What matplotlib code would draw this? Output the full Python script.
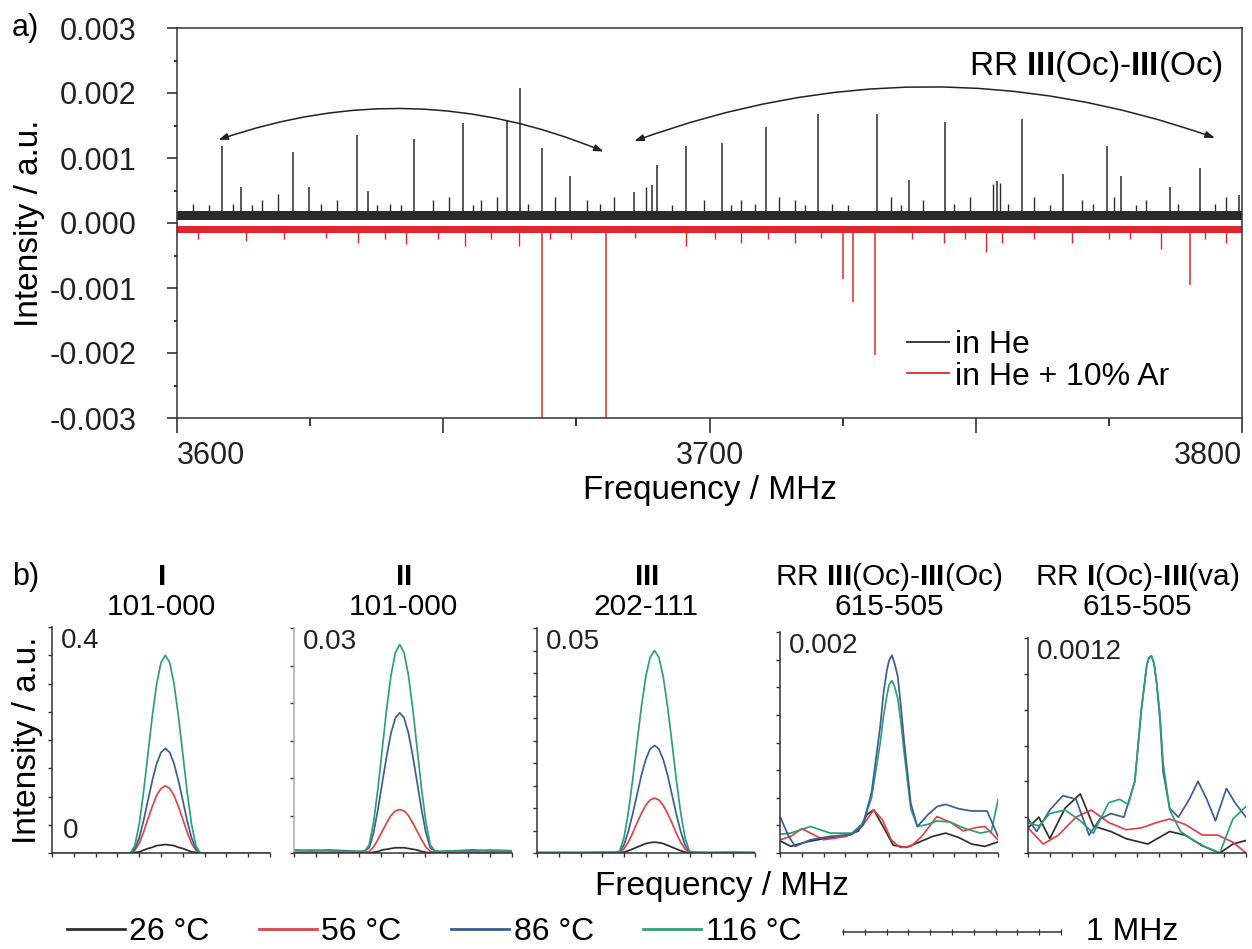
import numpy as np
import matplotlib
matplotlib.use("Agg")
import matplotlib.pyplot as plt
from matplotlib.lines import Line2D
from matplotlib.ticker import MultipleLocator, FormatStrFormatter

plt.rcParams["font.family"] = ["Liberation Sans", "DejaVu Sans"]
plt.rcParams["mathtext.fontset"] = "custom"
plt.rcParams["mathtext.rm"] = "Liberation Sans"
plt.rcParams["mathtext.bf"] = "Liberation Sans:bold"
plt.rcParams["axes.unicode_minus"] = False

BLACK = "#2a2a2a"
RED = "#e3262a"
C26, C56, C86, C116 = "#2e2e2e", "#d8454a", "#3a5e95", "#2f9e79"

# ---- (a) broadband spectrum: He (up) and He + 10% Ar (down) ----
he_peak_freq = [3608.5, 3612.1, 3621.7, 3624.8, 3633.8, 3635.9, 3644.6, 3653.8,
                3661.9, 3664.4, 3668.5, 3673.8, 3685.9, 3689.2, 3690.1, 3695.6,
                3702.3, 3710.6, 3720.3, 3731.5, 3737.5, 3744.3, 3753.9, 3758.6,
                3766.3, 3774.6, 3777.2, 3786.4, 3792.1, 3799.4]
he_peak_int = [0.00118, 0.00055, 0.00110, 0.00056, 0.00136, 0.00050, 0.00129, 0.00154,
               0.00159, 0.00208, 0.00116, 0.00072, 0.00047, 0.00058, 0.00089, 0.00118,
               0.00123, 0.00148, 0.00167, 0.00167, 0.00066, 0.00155, 0.00065, 0.00160,
               0.00075, 0.00118, 0.00072, 0.00056, 0.00085, 0.00043]
he_small_freq = [3603.0, 3606.0, 3610.5, 3614.0, 3616.0, 3619.0, 3627.0, 3630.0,
                 3637.5, 3640.0, 3642.0, 3648.0, 3651.0, 3655.5, 3657.0, 3660.0,
                 3666.0, 3671.0, 3677.0, 3679.5, 3682.0, 3688.0, 3693.0, 3699.0,
                 3704.0, 3706.0, 3708.5, 3713.0, 3716.0, 3718.0, 3723.0, 3726.0,
                 3734.0, 3736.0, 3740.0, 3746.0, 3749.0, 3753.3, 3754.5, 3756.0,
                 3761.0, 3764.0, 3770.0, 3772.0, 3776.0, 3780.0, 3782.0, 3788.0,
                 3795.0, 3797.0]
he_small_int = [0.00030, 0.00028, 0.00030, 0.00027, 0.00035, 0.00045, 0.00030, 0.00035,
                0.00027, 0.00030, 0.00028, 0.00035, 0.00040, 0.00028, 0.00035, 0.00040,
                0.00030, 0.00040, 0.00035, 0.00030, 0.00040, 0.00055, 0.00028, 0.00035,
                0.00028, 0.00035, 0.00030, 0.00040, 0.00035, 0.00028, 0.00030, 0.00028,
                0.00040, 0.00028, 0.00035, 0.00030, 0.00040, 0.00060, 0.00062, 0.00030,
                0.00040, 0.00028, 0.00035, 0.00030, 0.00040, 0.00028, 0.00035, 0.00030,
                0.00030, 0.00040]
ar_peak_freq = [3668.5, 3680.6, 3725.0, 3727.0, 3731.0, 3790.2]
ar_peak_int = [-0.0032, -0.0032, -0.00086, -0.00122, -0.00203, -0.00095]
ar_small_freq = [3604.0, 3613.0, 3620.0, 3628.0, 3634.0, 3639.0, 3643.0, 3649.0,
                 3654.0, 3659.0, 3664.3, 3670.0, 3674.0, 3686.0, 3695.6, 3701.0,
                 3706.0, 3711.0, 3716.0, 3721.0, 3738.0, 3744.0, 3748.0, 3752.0,
                 3755.0, 3761.0, 3768.0, 3775.0, 3779.0, 3784.7, 3793.0, 3797.0]
ar_small_int = [-0.00024, -0.00028, -0.00025, -0.00023, -0.00030, -0.00024, -0.00033,
                -0.00024, -0.00035, -0.00025, -0.00036, -0.00024, -0.00025, -0.00023,
                -0.00035, -0.00024, -0.00030, -0.00024, -0.00030, -0.00023, -0.00024,
                -0.00030, -0.00024, -0.00045, -0.00030, -0.00024, -0.00030, -0.00024,
                -0.00025, -0.00040, -0.00024, -0.00030]
band_freq = [3600, 3800]
he_band_lo, he_band_hi = [0.00005, 0.00005], [0.00018, 0.00018]
ar_band_lo, ar_band_hi = [-0.00016, -0.00016], [-0.00004, -0.00004]

# ---- (b) single transitions vs temperature, x = offset within a 1 MHz window ----
p1_x = [0.0, 0.36, 0.38, 0.40, 0.42, 0.44, 0.46, 0.48, 0.50, 0.52, 0.54, 0.56, 0.58,
        0.60, 0.62, 0.64, 0.66, 0.68, 1.0]
p1_26 = [0, 0, 0.001, 0.002, 0.005, 0.008, 0.010, 0.013, 0.014, 0.015, 0.014, 0.013,
         0.010, 0.008, 0.005, 0.002, 0.001, 0, 0]
p1_56 = [0, 0, 0.005, 0.017, 0.037, 0.060, 0.082, 0.102, 0.114, 0.119, 0.114, 0.102,
         0.082, 0.060, 0.037, 0.017, 0.005, 0, 0]
p1_86 = [0, 0, 0.007, 0.027, 0.057, 0.093, 0.128, 0.158, 0.178, 0.185, 0.178, 0.158,
         0.128, 0.093, 0.057, 0.027, 0.007, 0, 0]
p1_116 = [0, 0, 0.013, 0.051, 0.108, 0.175, 0.242, 0.299, 0.337, 0.350, 0.337, 0.299,
          0.242, 0.175, 0.108, 0.051, 0.013, 0, 0]

p2_x = [0.0, 0.08, 0.16, 0.24, 0.30, 0.325, 0.345, 0.365, 0.385, 0.405, 0.425, 0.445,
        0.465, 0.485, 0.505, 0.525, 0.545, 0.565, 0.585, 0.605, 0.625, 0.645, 0.67,
        0.74, 0.82, 0.90, 1.0]
p2_26 = [0, 0, 0, 0, 0, 0, 0, 0.0001, 0.0002, 0.0004, 0.0005, 0.0006, 0.0007, 0.0007,
         0.0007, 0.0006, 0.0005, 0.0004, 0.0002, 0.0001, 0, 0, 0, 0, 0, 0, 0]
p2_56 = [0.0001, 0.0001, 0.0001, 0.0001, 0.0001, 0.0001, 0.0002, 0.0008, 0.0018, 0.0029,
         0.0040, 0.0050, 0.0056, 0.0058, 0.0056, 0.0050, 0.0040, 0.0029, 0.0018, 0.0008,
         0.0002, 0.0001, 0.0001, 0.0001, 0.0001, 0.0001, 0.0001]
p2_86 = [0.0004, 0.0003, 0.0004, 0.0003, 0.0002, 0.0003, 0.0007, 0.0027, 0.0058, 0.0094,
         0.0129, 0.0160, 0.0180, 0.0187, 0.0180, 0.0160, 0.0129, 0.0094, 0.0058, 0.0027,
         0.0007, 0.0003, 0.0002, 0.0003, 0.0004, 0.0003, 0.0003]
p2_116 = [0.0003, 0.0004, 0.0003, 0.0002, 0.0002, 0.0003, 0.0011, 0.0041, 0.0086, 0.0139,
          0.0192, 0.0237, 0.0267, 0.0278, 0.0267, 0.0237, 0.0192, 0.0139, 0.0086, 0.0041,
          0.0011, 0.0003, 0.0002, 0.0003, 0.0002, 0.0004, 0.0003]

p3_x = [0.0, 0.1, 0.2, 0.3, 0.359, 0.379, 0.399, 0.419, 0.439, 0.459, 0.479, 0.499,
        0.519, 0.539, 0.559, 0.579, 0.599, 0.619, 0.639, 0.659, 0.679, 0.699, 0.719,
        0.8, 0.9, 1.0]
p3_26 = [0, 0, 0, 0, 0, 0, 0.0002, 0.0005, 0.0009, 0.0013, 0.0017, 0.0021, 0.0023,
         0.0024, 0.0023, 0.0021, 0.0017, 0.0013, 0.0009, 0.0005, 0.0002, 0, 0, 0, 0, 0]
p3_56 = [0, 0, 0, 0, 0, 0.0001, 0.0009, 0.0024, 0.0044, 0.0067, 0.0088, 0.0106, 0.0118,
         0.0122, 0.0118, 0.0106, 0.0088, 0.0067, 0.0044, 0.0024, 0.0009, 0.0001, 0,
         0, 0, 0]
p3_86 = [0.0001, 0.0001, 0.0001, 0.0001, 0.0001, 0.0002, 0.0018, 0.0048, 0.0087, 0.0130,
         0.0173, 0.0208, 0.0231, 0.0239, 0.0231, 0.0208, 0.0173, 0.0130, 0.0087, 0.0048,
         0.0018, 0.0002, 0.0001, 0.0001, 0.0001, 0.0001]
p3_116 = [0.0001, 0.0001, 0.0001, 0.0002, 0.0002, 0.0004, 0.0034, 0.0090, 0.0163, 0.0246,
          0.0325, 0.0392, 0.0435, 0.0450, 0.0435, 0.0392, 0.0325, 0.0246, 0.0163, 0.0090,
          0.0034, 0.0004, 0.0002, 0.0001, 0.0002, 0.0001]

# RR III(Oc)-III(Oc), intensities in units of 1e-3
p4_26_x = [0, 0.05, 0.12, 0.2, 0.3, 0.36, 0.40, 0.43, 0.47, 0.52, 0.58, 0.64, 0.70,
           0.76, 0.82, 0.88, 0.94, 1.0]
p4_26 = [0.11, 0.06, 0.10, 0.13, 0.15, 0.20, 0.35, 0.39, 0.25, 0.07, 0.05, 0.10, 0.15,
         0.18, 0.14, 0.08, 0.06, 0.10]
p4_56_x = [0, 0.05, 0.1, 0.15, 0.2, 0.27, 0.33, 0.38, 0.43, 0.47, 0.51, 0.55, 0.60,
           0.65, 0.72, 0.78, 0.84, 0.9, 0.94, 1.0]
p4_56 = [0.12, 0.15, 0.22, 0.17, 0.12, 0.14, 0.17, 0.25, 0.39, 0.30, 0.12, 0.05, 0.06,
         0.15, 0.33, 0.28, 0.20, 0.23, 0.24, 0.12]
p4_86_x = [0, 0.04, 0.07, 0.14, 0.23, 0.33, 0.38, 0.42, 0.46, 0.475, 0.49, 0.50, 0.513,
           0.525, 0.54, 0.555, 0.57, 0.60, 0.63, 0.68, 0.72, 0.76, 0.82, 0.88, 0.95, 1.0]
p4_86 = [0.33, 0.15, 0.06, 0.12, 0.15, 0.17, 0.25, 0.55, 1.15, 1.45, 1.65, 1.74, 1.79,
         1.72, 1.60, 1.32, 1.00, 0.45, 0.24, 0.35, 0.42, 0.44, 0.40, 0.38, 0.38, 0.15]
p4_116_x = [0, 0.05, 0.14, 0.23, 0.33, 0.38, 0.42, 0.46, 0.475, 0.49, 0.50, 0.513, 0.525,
            0.54, 0.555, 0.57, 0.60, 0.63, 0.68, 0.72, 0.78, 0.85, 0.92, 0.97, 1.0]
p4_116 = [0.17, 0.18, 0.24, 0.18, 0.18, 0.27, 0.50, 1.00, 1.24, 1.42, 1.52, 1.56, 1.51,
          1.40, 1.18, 0.90, 0.40, 0.24, 0.26, 0.29, 0.28, 0.22, 0.18, 0.20, 0.48]

# RR I(Oc)-III(va), intensities in units of 1e-3
p5_26_x = [0, 0.05, 0.1, 0.17, 0.24, 0.3, 0.38, 0.45, 0.55, 0.65, 0.72, 0.8, 0.88, 0.94, 1.0]
p5_26 = [0.14, 0.20, 0.08, 0.25, 0.33, 0.15, 0.12, 0.08, 0.05, 0.12, 0.10, 0.04, 0.0,
         0.05, 0.07]
p5_56_x = [0, 0.07, 0.14, 0.22, 0.29, 0.37, 0.45, 0.52, 0.59, 0.65, 0.72, 0.8, 0.87, 0.94, 1.0]
p5_56 = [0.14, 0.05, 0.10, 0.20, 0.24, 0.17, 0.13, 0.14, 0.17, 0.19, 0.16, 0.10, 0.10,
         0.06, 0.0]
p5_86_x = [0, 0.04, 0.1, 0.16, 0.22, 0.28, 0.33, 0.38, 0.44, 0.49, 0.52, 0.545, 0.555,
           0.566, 0.578, 0.59, 0.605, 0.62, 0.65, 0.69, 0.74, 0.78, 0.82, 0.86, 0.91,
           0.95, 1.0]
p5_86 = [0.19, 0.12, 0.24, 0.32, 0.30, 0.10, 0.19, 0.22, 0.20, 0.40, 0.80, 1.05, 1.09,
         1.10, 1.06, 0.95, 0.75, 0.45, 0.25, 0.20, 0.30, 0.40, 0.30, 0.18, 0.36, 0.28, 0.20]
p5_116_x = [0, 0.05, 0.1, 0.17, 0.24, 0.3, 0.37, 0.42, 0.46, 0.49, 0.52, 0.545, 0.555,
            0.566, 0.578, 0.59, 0.605, 0.62, 0.65, 0.7, 0.76, 0.82, 0.88, 0.94, 1.0]
p5_116 = [0.17, 0.15, 0.22, 0.24, 0.18, 0.11, 0.28, 0.30, 0.27, 0.40, 0.80, 1.05, 1.09,
          1.10, 1.06, 0.95, 0.78, 0.50, 0.24, 0.12, 0.07, 0.03, 0.0, 0.19, 0.26]

panel_titles = [r"$\mathbf{I}$", r"$\mathbf{II}$", r"$\mathbf{III}$",
                r"RR $\mathbf{III}$(Oc)-$\mathbf{III}$(Oc)",
                r"RR $\mathbf{I}$(Oc)-$\mathbf{III}$(va)"]
panel_trans = ["101-000", "101-000", "202-111", "615-505", "615-505"]
panel_top_label = ["0.4", "0.03", "0.05", "0.002", "0.0012"]
panel_ymax = [0.4, 0.03, 0.05, 0.002, 0.0012]
panel_ystep = [0.05, 0.005, 0.005, 0.00025, 0.0002]
temps = ["26 °C", "56 °C", "86 °C", "116 °C"]

W, H = 1252, 949
fig = plt.figure(figsize=(W / 100, H / 100), dpi=100)


def px_axes(left, top, right, bottom):
    return fig.add_axes([left / W, 1 - bottom / H, (right - left) / W, (bottom - top) / H])


def fig_text(x, y, s, **kw):
    return fig.text(x / W, 1 - y / H, s, **kw)


# ---------------- panel a ----------------
ax = px_axes(177, 28, 1242, 418)
ax.fill_between(band_freq, he_band_lo, he_band_hi, color=BLACK, lw=0)
ax.fill_between(band_freq, ar_band_lo, ar_band_hi, color=RED, lw=0)
ax.vlines(he_small_freq, 0.0001, he_small_int, color=BLACK, lw=1.0)
ax.vlines(ar_small_freq, -0.0001, ar_small_int, color=RED, lw=1.0)
ax.vlines(he_peak_freq, 0.0001, he_peak_int, color=BLACK, lw=1.1)
ax.vlines(ar_peak_freq, -0.0001, ar_peak_int, color=RED, lw=1.1)
ax.set_xlim(3600, 3800)
ax.set_ylim(-0.003, 0.003)

ax.set_xticks([3600, 3650, 3700, 3750, 3800], labels=["3600", "", "3700", "", "3800"])
ax.xaxis.set_minor_locator(MultipleLocator(25))
ax.yaxis.set_major_locator(MultipleLocator(0.001))
ax.yaxis.set_minor_locator(MultipleLocator(0.0005))
ax.yaxis.set_major_formatter(FormatStrFormatter("%.3f"))
ax.tick_params(axis="x", which="major", direction="out", length=10.5, width=1.1,
               pad=6, labelsize=22, colors="#222")
ax.tick_params(axis="x", which="minor", direction="out", length=5.5, width=1.1)
ax.tick_params(axis="y", which="major", direction="out", length=7, width=1.1,
               pad=22, labelsize=22, colors="#222")
ax.tick_params(axis="y", which="minor", direction="out", length=2.5, width=1.1)
xl = ax.get_xticklabels()
xl[0].set_ha("left")
xl[-1].set_ha("right")
for s in ax.spines.values():
    s.set_linewidth(1.1)
    s.set_color("#333")

# curved arrows spanning the two groups of lines
ax.annotate("", xy=(3680.1, 0.00110), xytext=(3607.8, 0.00128),
            arrowprops=dict(arrowstyle="<|-|>,head_length=0.55,head_width=0.2",
                            connectionstyle="arc3,rad=-0.19", color="#222", lw=1.1,
                            shrinkA=0, shrinkB=0))
ax.annotate("", xy=(3794.9, 0.00131), xytext=(3685.9, 0.00126),
            arrowprops=dict(arrowstyle="<|-|>,head_length=0.55,head_width=0.2",
                            connectionstyle="arc3,rad=-0.18", color="#222", lw=1.1,
                            shrinkA=0, shrinkB=0))
fig_text(1223, 67, r"RR $\mathbf{III}$(Oc)-$\mathbf{III}$(Oc)", ha="right", va="center",
         fontsize=24)

ax.legend(handles=[Line2D([], [], color=BLACK, lw=1.3), Line2D([], [], color=RED, lw=1.3)],
          labels=["in He", "in He + 10% Ar"], loc="upper left",
          bbox_to_anchor=(907 / W, 1 - 330 / H), bbox_transform=fig.transFigure,
          frameon=False, fontsize=23, handlelength=1.3, handletextpad=0.2,
          labelspacing=0.05, borderpad=0, borderaxespad=0)

fig_text(12, 28, "a)", ha="left", va="center", fontsize=22)
fig_text(30, 223, "Intensity / a.u.", rotation=90, ha="center", va="center", fontsize=24)
fig_text(710, 490, "Frequency / MHz", ha="center", va="center", fontsize=24)

# ---------------- panel b ----------------
lefts = [52, 294, 537, 780, 1028]
tops = [627, 628, 628, 632, 638]
curves = [
    [(p1_x, p1_26), (p1_x, p1_56), (p1_x, p1_86), (p1_x, p1_116)],
    [(p2_x, p2_26), (p2_x, p2_56), (p2_x, p2_86), (p2_x, p2_116)],
    [(p3_x, p3_26), (p3_x, p3_56), (p3_x, p3_86), (p3_x, p3_116)],
    [(p4_26_x, np.array(p4_26) * 1e-3), (p4_56_x, np.array(p4_56) * 1e-3),
     (p4_116_x, np.array(p4_116) * 1e-3), (p4_86_x, np.array(p4_86) * 1e-3)],
    [(p5_26_x, np.array(p5_26) * 1e-3), (p5_56_x, np.array(p5_56) * 1e-3),
     (p5_86_x, np.array(p5_86) * 1e-3), (p5_116_x, np.array(p5_116) * 1e-3)],
]
colors = [
    [C26, C56, C86, C116],
    [C26, C56, C86, C116],
    [C26, C56, C86, C116],
    [C26, C56, C116, C86],
    [C26, C56, C86, C116],
]

for i in range(5):
    bx = px_axes(lefts[i], tops[i], lefts[i] + 218, 853)
    for (cx, cy), c in zip(curves[i], colors[i]):
        bx.plot(cx, cy, color=c, lw=1.25)
    bx.set_xlim(0, 1)
    bx.set_ylim(0, panel_ymax[i])
    bx.spines["top"].set_visible(False)
    bx.spines["right"].set_visible(False)
    for s in ("left", "bottom"):
        bx.spines[s].set_linewidth(1.1)
        bx.spines[s].set_color("#333")
    if i == 1:
        bx.spines["left"].set_color("#aaaaaa")
    bx.xaxis.set_major_locator(MultipleLocator(0.1))
    bx.yaxis.set_major_locator(MultipleLocator(panel_ystep[i]))
    bx.tick_params(direction="out", length=3, width=1.0, labelbottom=False,
                   labelleft=False, colors="#333")
    bx.text(0.04, 0.995, panel_top_label[i], transform=bx.transAxes, ha="left",
            va="top", fontsize=20, color="#222")
    if i == 0:
        bx.text(0.05, 0.04, "0", transform=bx.transAxes, ha="left", va="bottom",
                fontsize=20, color="#222")
    cx_mid = lefts[i] + 109
    fig_text(cx_mid, 577, panel_titles[i], ha="center", va="center", fontsize=21.5)
    fig_text(cx_mid, 607, panel_trans[i], ha="center", va="center", fontsize=21.5)

fig_text(12, 577, "b)", ha="left", va="center", fontsize=22)
fig_text(28, 740, "Intensity / a.u.", rotation=90, ha="center", va="center", fontsize=24)
fig_text(722, 887, "Frequency / MHz", ha="center", va="center", fontsize=24)

fig.legend(handles=[Line2D([], [], color=c, lw=2.0) for c in (C26, C56, C86, C116)],
           labels=temps, ncol=4, loc="center left",
           bbox_to_anchor=(67 / W, 1 - 932 / H), frameon=False, fontsize=23,
           handlelength=1.8, handletextpad=0.15, columnspacing=1.55,
           borderpad=0, borderaxespad=0)

# 1 MHz scale bar
sb = px_axes(843, 922, 1061, 932)
sb.set_xlim(0, 1)
sb.patch.set_visible(False)
for s in ("top", "right", "left"):
    sb.spines[s].set_visible(False)
sb.spines["bottom"].set_linewidth(1.1)
sb.spines["bottom"].set_color("#333")
sb.set_yticks([])
sb.set_xticks(np.arange(0, 1.01, 0.1))
sb.tick_params(axis="x", direction="inout", length=4, width=0.9, labelbottom=False,
               colors="#333")
fig_text(1086, 932, "1 MHz", ha="left", va="center", fontsize=23)

fig.savefig("out.png", dpi=100)
